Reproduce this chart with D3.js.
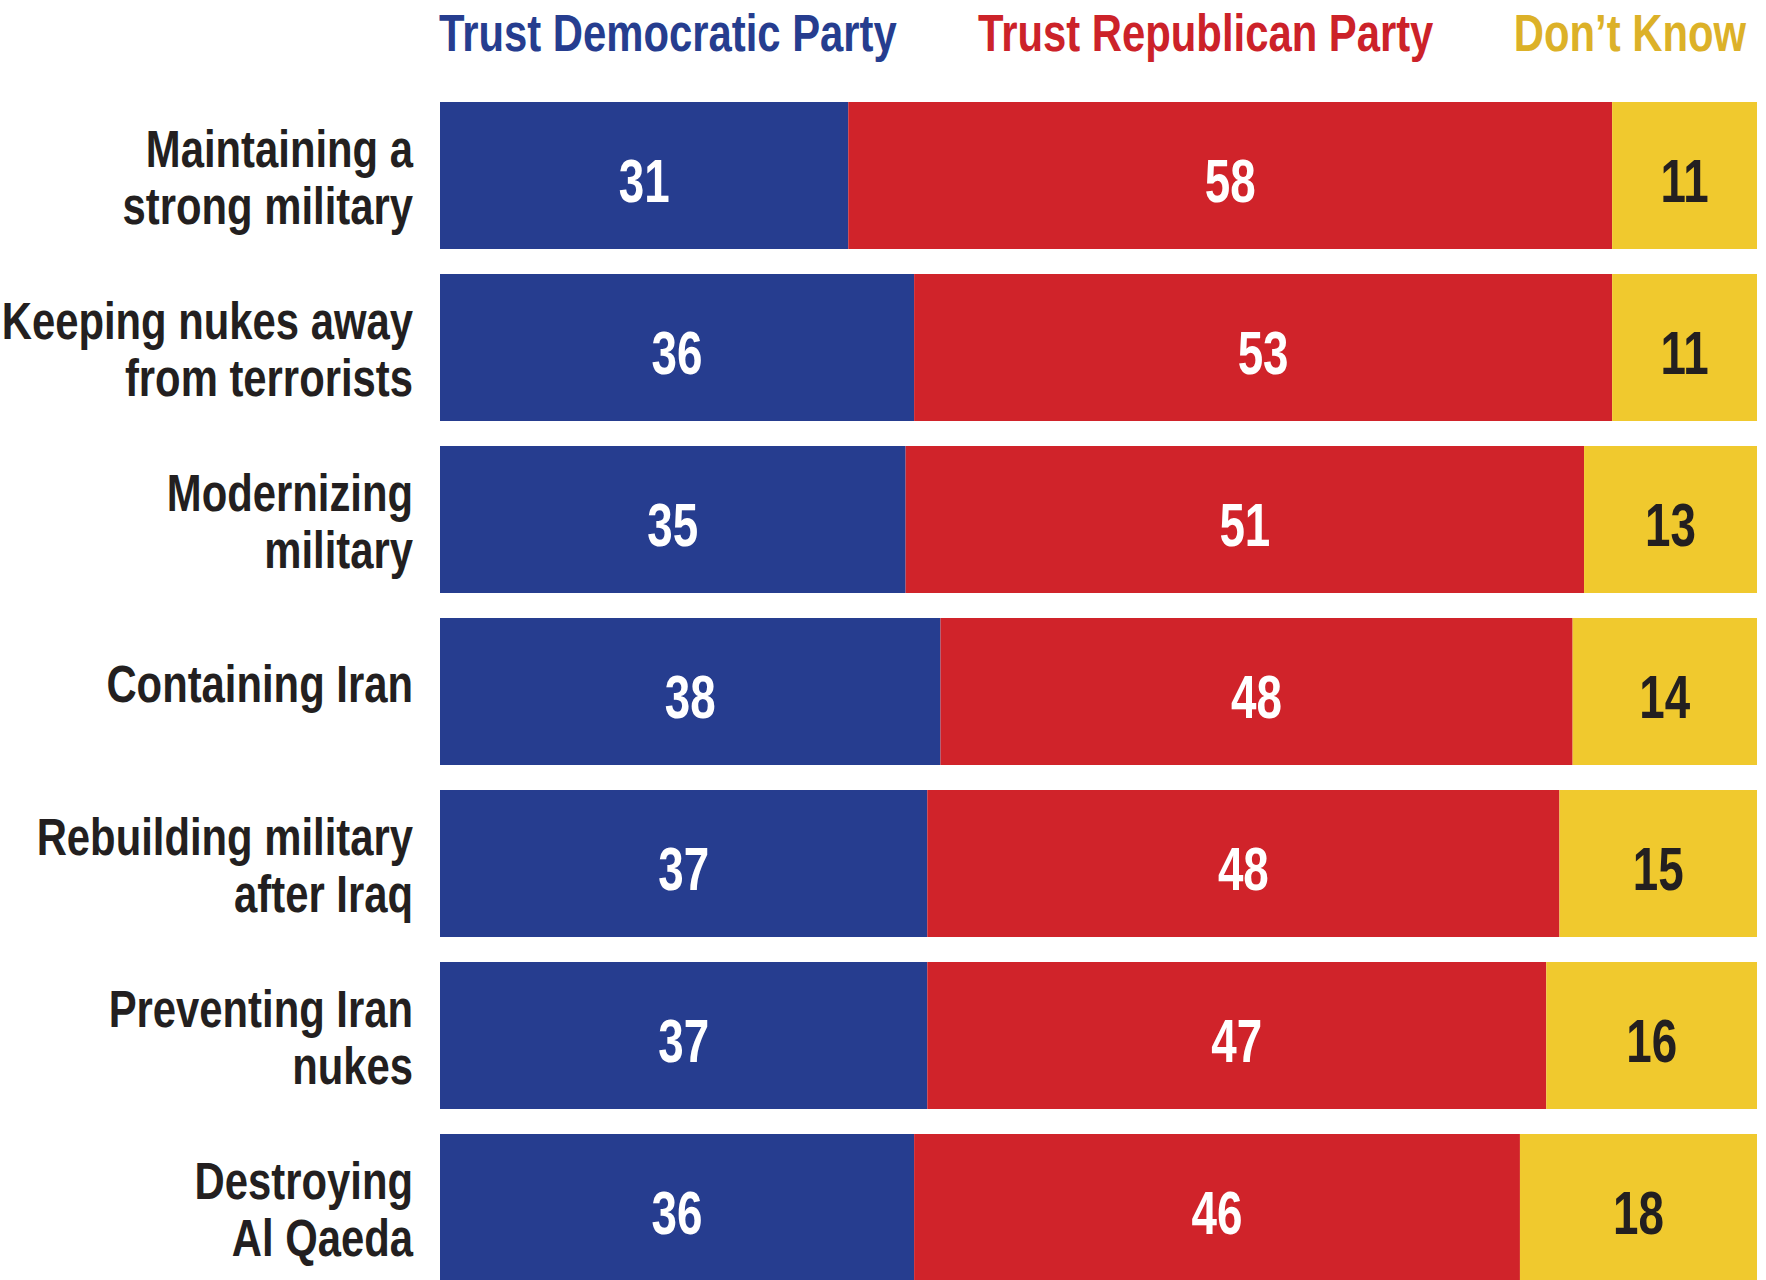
<!DOCTYPE html>
<html>
<head>
<meta charset="utf-8">
<script src="https://cdn.jsdelivr.net/npm/d3@7"></script>
<style>
  html, body { margin: 0; padding: 0; background: #fff; }
  svg { display: block; }
  text { font-family: "Liberation Sans", Arial, sans-serif; font-weight: bold; }
</style>
</head>
<body>
<svg id="chart" width="1766" height="1280"></svg>
<script>
// Issue labels (one entry per line of the wrapped label)
const issues = [
  ["Maintaining a", "strong military"],
  ["Keeping nukes away", "from terrorists"],
  ["Modernizing", "military"],
  ["Containing Iran"],
  ["Rebuilding military", "after Iraq"],
  ["Preventing Iran", "nukes"],
  ["Destroying", "Al Qaeda"]
];
const seriesNames = ["Trust Democratic Party", "Trust Republican Party", "Don’t Know"];
const democratic = [31, 36, 35, 38, 37, 37, 36];
const republican = [58, 53, 51, 48, 48, 47, 46];
const dontKnow   = [11, 11, 13, 14, 15, 16, 18];

const barColors   = ["#263d8f", "#d0232a", "#f0c92e"];
const headColors  = ["#263d8f", "#cc2229", "#dcb128"];
const valueColors = ["#ffffff", "#ffffff", "#231f20"];

// Condensed look: squeeze the regular bold face horizontally
const narrow = 0.82;

const svg = d3.select("#chart");
const left = 440, right = 1757;

const rows = issues.map((lines, i) => ({
  lines,
  values: [democratic[i], republican[i], dontKnow[i]]
}));

const y = d3.scaleBand()
  .domain(d3.range(rows.length))
  .range([102, 1281])
  .paddingInner(25 / 172)
  .paddingOuter(0);

// Series headers
const heads = [
  { x: left - 1, anchor: "start" },
  { x: 978, anchor: "start" },
  { x: 1746, anchor: "end" }
];
svg.append("g").selectAll("g")
  .data(seriesNames)
  .join("g")
  .attr("transform", (d, i) => `translate(${heads[i].x},51) scale(${narrow},1)`)
  .append("text")
  .attr("text-anchor", (d, i) => heads[i].anchor)
  .attr("font-size", 51)
  .attr("fill", (d, i) => headColors[i])
  .text(d => d);

const row = svg.append("g").selectAll("g.row")
  .data(rows)
  .join("g")
  .attr("class", "row");

row.each(function (d, i) {
  const g = d3.select(this);
  const x = d3.scaleLinear().domain([0, d3.sum(d.values)]).range([left, right]);
  const stacked = d3.stack().keys([0, 1, 2])([d.values])
    .map((s, k) => ({ k, x0: s[0][0], x1: s[0][1], v: d.values[k] }));
  const top = y(i), h = y.bandwidth(), mid = top + h / 2;

  g.selectAll("rect")
    .data(stacked)
    .join("rect")
    .attr("x", s => x(s.x0))
    .attr("y", top)
    .attr("width", s => x(s.x1) - x(s.x0))
    .attr("height", h)
    .attr("fill", s => barColors[s.k]);

  g.selectAll("g.val")
    .data(stacked)
    .join("g")
    .attr("class", "val")
    .attr("transform", s => `translate(${(x(s.x0) + x(s.x1)) / 2},${mid + 26}) scale(${narrow * 0.9},1)`)
    .append("text")
    .attr("text-anchor", "middle")
    .attr("font-size", 62)
    .attr("fill", s => valueColors[s.k])
    .text(s => s.v);

  const lh = 57;
  const firstBase = d.lines.length === 1 ? mid + 11 : mid - 8;
  g.append("g")
    .attr("transform", `translate(413,0) scale(${narrow},1)`)
    .append("text")
    .attr("text-anchor", "end")
    .attr("font-size", 51)
    .attr("fill", "#231f20")
    .selectAll("tspan")
    .data(d.lines)
    .join("tspan")
    .attr("x", 0)
    .attr("y", (t, j) => firstBase + j * lh)
    .text(t => t);
});
</script>
</body>
</html>
